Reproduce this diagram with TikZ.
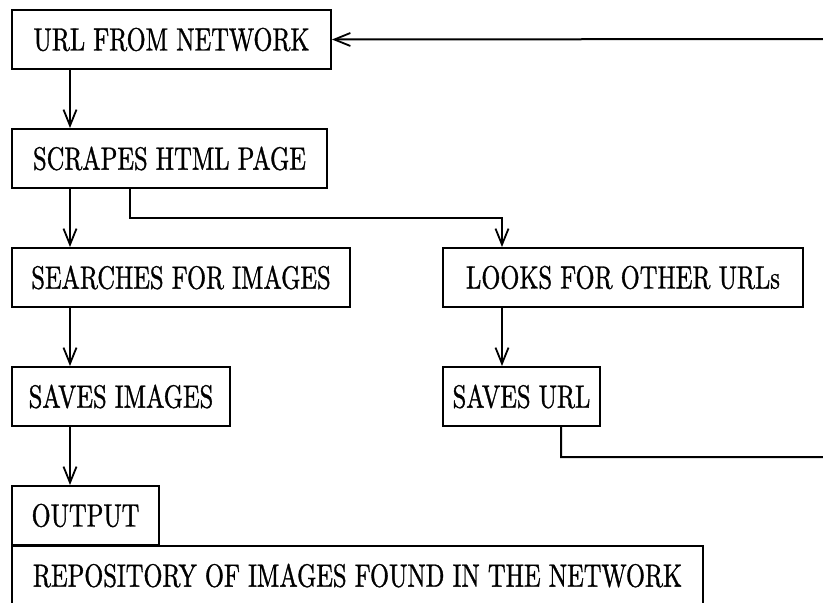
\documentclass[tikz,border=0pt]{standalone}
\usepackage{fontspec}
\usepackage{tikz}
\usetikzlibrary{arrows.meta}
\newfontfamily\boxfont[FakeStretch=0.76,FakeBold=1]{lmroman10-regular.otf}

\tikzset{
  box/.style={draw, line width=2pt, anchor=north west, minimum height=59pt,
    inner xsep=8pt, inner ysep=0pt, font={\boxfont\fontsize{32.2}{36}\selectfont}},
  flow/.style={line width=2pt, -{Straight Barb[length=16pt,width=13pt,line width=1.8pt]}},
}

\begin{document}
\begin{tikzpicture}[x=1pt, y=-1pt]
      \useasboundingbox (0,0) rectangle (823,603);
      % left column
      \node[box, minimum width=319pt] (url)     at (11,9)   {URL FROM NETWORK};
      \node[box, minimum width=315pt] (scrape)  at (11,128) {SCRAPES HTML PAGE};
      \node[box, minimum width=338pt] (search)  at (11,247) {SEARCHES FOR IMAGES};
      \node[box, minimum width=218pt] (saveimg) at (11,366) {SAVES IMAGES};
      \node[box, minimum width=147pt] (output)  at (11,485) {OUTPUT};
      \node[box, minimum width=691pt] (repo)    at (11,545) {REPOSITORY OF IMAGES FOUND IN THE NETWORK};
      % right column
      \node[box, minimum width=360pt] (looks)   at (442,247) {LOOKS FOR OTHER URLs};
      \node[box, minimum width=157pt] (saveurl) at (442,366) {SAVES URL};
      \coordinate (rim) at (824,39);
      % connectors
      \draw[flow] ([xshift=59pt]url.south west) -- ([xshift=59pt]scrape.north west);
      \draw[flow] ([xshift=59pt]scrape.south west) -- ([xshift=59pt]search.north west);
      \draw[flow] ([xshift=119pt]scrape.south west) -- ++(0,29) -| ([xshift=60pt]looks.north west);
      \draw[flow] ([xshift=59pt]search.south west) -- ([xshift=59pt]saveimg.north west);
      \draw[flow] ([xshift=60pt]looks.south west) -- ([xshift=60pt]saveurl.north west);
      \draw[flow] ([xshift=59pt]saveimg.south west) -- ([xshift=59pt]output.north west);
      \draw[flow] ([xshift=119pt]saveurl.south west) -- ++(0,30) -| (rim) -- (url.east);
\end{tikzpicture}
\end{document}
